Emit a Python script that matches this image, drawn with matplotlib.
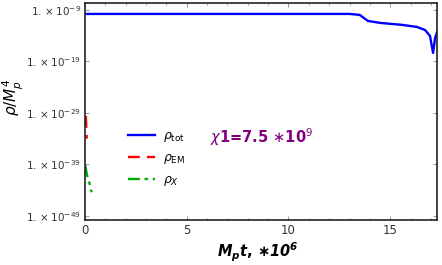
import numpy as np
import matplotlib
matplotlib.use("Agg")
import matplotlib.pyplot as plt
from matplotlib.ticker import FixedLocator, NullLocator

# data (log10 of rho/Mp^4 vs Mp t in units of 1e6)
t_tot = [0.0, 13.0, 13.5, 13.9, 14.5, 15.6, 16.3, 16.7, 16.95, 17.1, 17.2, 17.3]
log_tot = [-9.78, -9.78, -9.97, -11.14, -11.52, -11.91, -12.30, -12.88, -14.05, -17.35, -14.44, -13.27]
t_em = [0.05, 0.07, 0.09]
log_em = [-29.6, -31.8, -34.0]
t_x = [0.02, 0.1, 0.25, 0.33]
log_x = [-39.2, -41.0, -43.0, -44.4]
yticks = [-9, -19, -29, -39, -49]
xticks = [0, 5, 10, 15]

plt.rcParams['font.family'] = ['DejaVu Sans']
plt.rcParams['mathtext.fontset'] = 'dejavusans'

fig = plt.figure(figsize=(4.42, 2.65), dpi=100)
ax = fig.add_axes([0.192, 0.170, 0.797, 0.819])

ax.plot(t_tot, 10.0**np.array(log_tot), color='#0000ff', lw=1.7, label=r'$\rho_{\rm tot}$')
ax.plot(t_em, 10.0**np.array(log_em), color='#ff0000', lw=1.7, ls=(0, (5, 3)), label=r'$\rho_{\rm EM}$')
ax.plot(t_x, 10.0**np.array(log_x), color='#00aa00', lw=1.7, ls=(0, (5, 2, 1.5, 2)), label=r'$\rho_{X}$')

ax.set_yscale('log')
ax.set_xlim(0, 17.3)
ax.set_ylim(10**-49.78, 10**-7.64)
ax.yaxis.set_major_locator(FixedLocator([10.0**v for v in yticks]))
ax.yaxis.set_minor_locator(NullLocator())
ax.set_yticklabels([r'$1.\times10^{%d}$' % v for v in yticks], fontsize=7.5, color='#333333')
ax.set_xticks(xticks)
ax.set_xticklabels([str(v) for v in xticks], fontsize=8.5, color='#333333')
ax.set_xticks(np.arange(0, 17.3, 1), minor=True)
ax.tick_params(which='both', direction='in', top=True, right=True, length=3, width=0.6, color='#888888', pad=3)
ax.tick_params(which='minor', length=1.5)
for s in ax.spines.values():
    s.set_linewidth(1.2)
    s.set_color('#222222')

ax.set_xlabel(r'$\mathbfit{M_p t}$, $\mathbf{\ast}\mathbfit{10^6}$', fontsize=10.5, fontweight='bold')
ax.xaxis.set_label_coords(0.49, -0.095)
ax.set_ylabel(r'$\rho/M_p^4$', fontsize=11)
ax.yaxis.set_label_coords(-0.168, 0.566)

leg = ax.legend(loc='upper left', bbox_to_anchor=(0.09, 0.47), frameon=False, fontsize=9,
                handlelength=2.2, labelspacing=0.55, handletextpad=0.6)

ax.text(0.355, 0.38, r'$\chi$1=7.5 $\ast$10$^9$', transform=ax.transAxes, color='#800080',
        fontsize=10.5, fontweight='bold', ha='left', va='center')

fig.savefig('out.png', dpi=100)
